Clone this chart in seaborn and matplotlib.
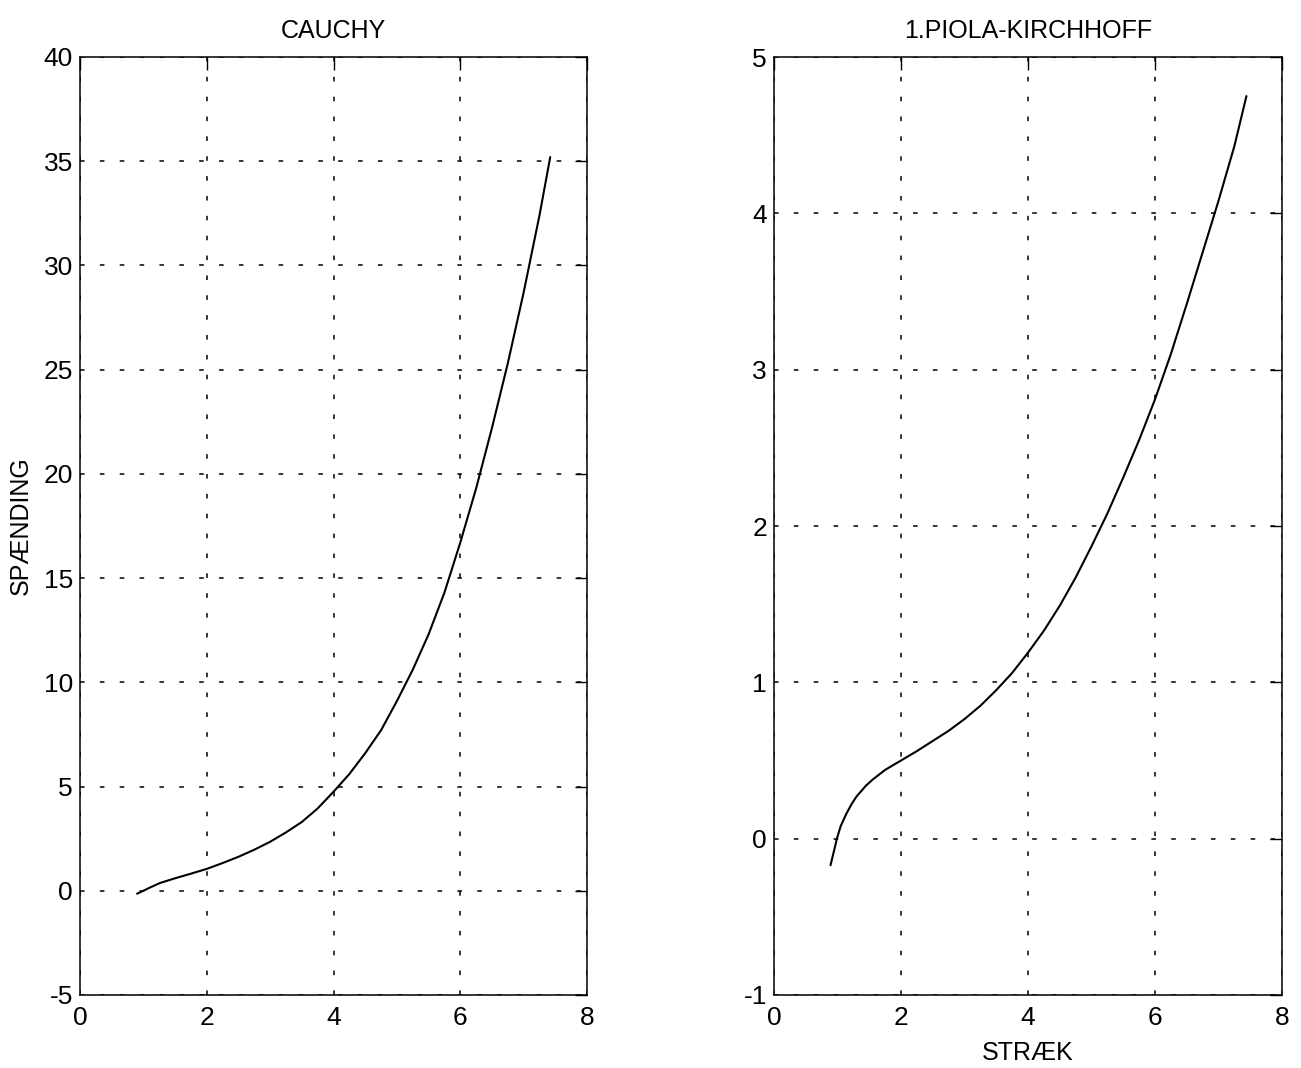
import matplotlib
matplotlib.use("Agg")
import matplotlib.pyplot as plt
import seaborn as sns

# estilo parecido com o MATLAB antigo
sns.set_theme(style="white")
plt.rcParams['font.family'] = ['Liberation Sans', 'DejaVu Sans']
plt.rcParams['axes.edgecolor'] = 'black'
plt.rcParams['axes.linewidth'] = 1.1
plt.rcParams['axes.unicode_minus'] = False
plt.rcParams['text.color'] = 'black'
plt.rcParams['axes.labelcolor'] = 'black'

# dados
cauchy_strain = [0.90, 1.00, 1.10, 1.26, 1.50, 1.75, 2.00, 2.25, 2.50, 2.75, 3.00, 3.25, 3.50, 3.75,
                 4.00, 4.25, 4.50, 4.75, 5.00, 5.25, 5.50, 5.75, 6.00, 6.25, 6.50, 6.75, 7.00, 7.25, 7.42]
cauchy_stress = [-0.14, 0.00, 0.15, 0.37, 0.60, 0.82, 1.05, 1.33, 1.63, 1.97, 2.35, 2.80, 3.30, 3.95,
                 4.75, 5.60, 6.60, 7.70, 9.10, 10.60, 12.30, 14.30, 16.70, 19.30, 22.20, 25.30, 28.70, 32.40, 35.20]

piola_strain = [0.89, 0.95, 0.99, 1.05, 1.14, 1.22, 1.30, 1.45, 1.56, 1.75, 2.00, 2.25, 2.50, 2.75, 3.00,
                3.25, 3.50, 3.75, 4.00, 4.25, 4.50, 4.75, 5.00, 5.25, 5.50, 5.75, 6.00, 6.25, 6.50, 6.75,
                7.00, 7.25, 7.44]
piola_stress = [-0.17, -0.07, 0.00, 0.08, 0.16, 0.22, 0.27, 0.34, 0.38, 0.44, 0.50, 0.56, 0.625, 0.69, 0.765,
                0.85, 0.95, 1.06, 1.19, 1.33, 1.49, 1.67, 1.87, 2.08, 2.31, 2.55, 2.81, 3.10, 3.42, 3.75,
                4.08, 4.43, 4.75]

x_ticks = [0, 2, 4, 6, 8]
cauchy_ticks = [-5, 0, 5, 10, 15, 20, 25, 30, 35, 40]
piola_ticks = [-1, 0, 1, 2, 3, 4, 5]

fig = plt.figure(figsize=(13.01, 10.68), dpi=100)
ax1 = fig.add_axes([80 / 1301, 73 / 1068, 507 / 1301, 938 / 1068])
ax2 = fig.add_axes([774 / 1301, 73 / 1068, 508 / 1301, 938 / 1068])


def formata(ax, yticks):
    ax.set_xlim(0, 8)
    ax.set_ylim(yticks[0], yticks[-1])
    ax.set_xticks(x_ticks)
    ax.set_yticks(yticks)
    ax.grid(True, color='black', linestyle=(0, (3, 10)), linewidth=1.1)
    ax.tick_params(direction='in', top=True, right=True, length=9, width=1.0,
                   labelsize=19, colors='black')
    ax.tick_params(axis='x', pad=8)
    ax.tick_params(axis='y', pad=5)
    for s in ax.spines.values():
        s.set_visible(True)
        s.set_color('black')


sns.lineplot(x=cauchy_strain, y=cauchy_stress, ax=ax1, color='black', linewidth=1.5,
             sort=False, estimator=None)
formata(ax1, cauchy_ticks)
ax1.set_title('CAUCHY', fontsize=18, pad=14)
ax1.set_ylabel('SPÆNDING', fontsize=18, labelpad=8)

sns.lineplot(x=piola_strain, y=piola_stress, ax=ax2, color='black', linewidth=1.5,
             sort=False, estimator=None)
formata(ax2, piola_ticks)
ax2.set_title('1.PIOLA-KIRCHHOFF', fontsize=18, pad=14)
ax2.set_xlabel('STRÆK', fontsize=18, labelpad=8)

fig.savefig('out.png', dpi=100)
